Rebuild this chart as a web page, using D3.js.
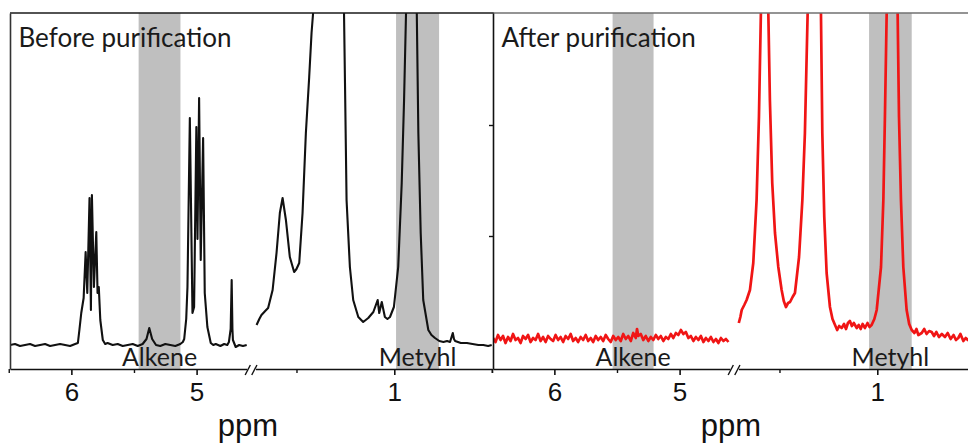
<!DOCTYPE html>
<html>
<head>
<meta charset="utf-8">
<script src="https://cdn.jsdelivr.net/npm/d3@7"></script>
<style>
  html, body { margin: 0; padding: 0; background: #fff; }
  svg { display: block; }
</style>
</head>
<body>
<div id="chart"></div>
<script>
// panel titles and broken ppm axis
const panelTitles = ["Before purification", "After purification"];
const seg1Domain = [6.49, 4.60];
const seg2Domain = [1.71, 0.50];
const majorTicks = [[6, 5], [1]];
const minorTicks = [[6.5, 5.5], [1.5, 0.5]];
const yTicksAfter = [133, 244];

// shaded regions: segment, ppm from, ppm to, label
const bandsBefore = [
    { seg: 0, from: 5.463, to: 5.129, label: "Alkene" },
    { seg: 1, from: 0.991, to: 0.771, label: "Metyhl" }
];
const bandsAfter = [
    { seg: 0, from: 5.535, to: 5.208, label: "Alkene" },
    { seg: 1, from: 1.042, to: 0.824, label: "Metyhl" }
];

// spectra [ppm, intensity a.u.]
const beforeSeg1 = [
    [6.49,24],[6.45,25],[6.41,23],[6.37,24],[6.33,25],[6.29,23],[6.25,24],[6.21,25],[6.17,23],[6.13,24],
    [6.09,25],[6.05,24],[6.01,23],[5.97,25],[5.948,26],[5.935,40],[5.921,56],[5.902,71],[5.886,117],
    [5.873,76],[5.855,171],[5.844,59],[5.836,174],[5.820,82],[5.801,137],[5.791,76],[5.781,82],
    [5.769,49],[5.749,29],[5.73,25],[5.711,26],[5.67,24],[5.63,25],[5.59,23],[5.55,24],[5.51,25],
    [5.47,23],[5.431,25],[5.40,30],[5.378,41],[5.355,30],[5.324,24],[5.29,23],[5.25,25],[5.21,24],
    [5.17,23],[5.13,25],[5.11,27],[5.099,30],[5.083,50],[5.073,82],[5.054,251],[5.033,56],[5.020,62],
    [5.002,242],[4.993,130],[4.980,271],[4.967,109],[4.948,231],[4.935,76],[4.914,42],[4.887,26],
    [4.867,24],[4.847,25],[4.81,23],[4.78,25],[4.755,24],[4.742,27],[4.728,40],[4.720,89],[4.714,40],
    [4.710,29],[4.688,22],[4.66,24],[4.63,23],[4.60,24]
];
const beforeSeg2 = [
    [1.704,44],[1.690,50],[1.679,54],[1.660,58],[1.645,61],[1.622,79],[1.602,116],[1.585,156],
    [1.571,171],[1.554,149],[1.534,112],[1.512,97],[1.500,100],[1.486,106],[1.469,156],[1.452,236],
    [1.435,292],[1.423,336],[1.415,356],[1.34,900],[1.257,356],[1.252,286],[1.244,169],[1.227,102],
    [1.210,69],[1.184,52],[1.159,47],[1.133,51],[1.107,57],[1.085,69],[1.077,56],[1.064,67],[1.048,52],
    [1.035,50],[1.022,52],[1.002,62],[0.980,102],[0.962,186],[0.950,269],[0.940,356],[0.915,900],
    [0.885,356],[0.877,236],[0.865,136],[0.852,69],[0.826,39],[0.810,34],[0.792,31],[0.770,28],
    [0.749,27],[0.730,28],[0.715,27],[0.701,36],[0.695,30],[0.689,28],[0.66,26],[0.629,26],[0.60,25],
    [0.57,24],[0.545,24],[0.52,23],[0.502,24]
];
const afterSeg1 = [
    [6.49,31],[6.47,27],[6.45,34],[6.43,29],[6.41,33],[6.39,26],[6.37,32],[6.35,28],[6.33,35],[6.31,29],
    [6.29,31],[6.27,26],[6.25,33],[6.23,30],[6.21,34],[6.19,27],[6.17,31],[6.15,29],[6.13,35],[6.11,28],
    [6.09,32],[6.07,27],[6.05,33],[6.03,30],[6.01,28],[5.99,34],[5.97,29],[5.95,32],[5.93,27],[5.91,33],
    [5.89,30],[5.87,35],[5.85,28],[5.83,31],[5.81,27],[5.79,32],[5.77,29],[5.75,34],[5.73,28],[5.71,31],
    [5.69,27],[5.67,33],[5.65,29],[5.63,32],[5.61,28],[5.59,34],[5.57,30],[5.55,27],[5.53,33],[5.51,29],
    [5.49,32],[5.47,28],[5.45,35],[5.43,30],[5.41,33],[5.39,28],[5.37,36],[5.35,31],[5.34,40],[5.33,33],
    [5.31,35],[5.29,29],[5.27,33],[5.25,28],[5.23,32],[5.21,29],[5.19,34],[5.17,30],[5.15,33],[5.13,28],
    [5.11,32],[5.09,30],[5.07,35],[5.05,31],[5.03,36],[5.01,34],[4.99,39],[4.97,35],[4.95,37],[4.93,31],
    [4.91,33],[4.89,28],[4.87,32],[4.85,29],[4.83,33],[4.81,27],[4.79,31],[4.77,28],[4.75,32],[4.73,27],
    [4.71,30],[4.69,26],[4.67,31],[4.65,28],[4.63,30],[4.61,27]
];
const afterSeg2 = [
    [1.708,46],[1.700,52],[1.693,59],[1.680,64],[1.668,69],[1.651,79],[1.634,106],[1.617,169],
    [1.605,252],[1.595,356],[1.577,900],[1.557,356],[1.549,269],[1.537,186],[1.523,136],[1.506,102],
    [1.489,79],[1.478,68],[1.467,62],[1.456,66],[1.446,67],[1.433,72],[1.421,76],[1.400,112],
    [1.383,169],[1.370,236],[1.356,356],[1.324,900],[1.288,356],[1.281,236],[1.271,152],[1.259,96],
    [1.242,62],[1.229,50],[1.216,44],[1.205,39],[1.195,43],[1.182,41],[1.170,45],[1.160,40],[1.150,46],
    [1.140,48],[1.130,43],[1.120,46],[1.105,41],[1.095,44],[1.085,40],[1.075,45],[1.063,41],[1.050,46],
    [1.040,42],[1.029,44],[1.015,50],[1.003,59],[0.981,102],[0.969,169],[0.961,252],[0.952,356],
    [0.925,900],[0.896,356],[0.889,252],[0.879,169],[0.867,102],[0.850,59],[0.837,45],[0.824,39],
    [0.810,36],[0.800,40],[0.790,34],[0.773,36],[0.760,40],[0.748,35],[0.735,38],[0.722,37],[0.710,33],
    [0.698,37],[0.685,32],[0.670,35],[0.654,32],[0.640,36],[0.625,30],[0.610,34],[0.598,29],[0.586,31],
    [0.575,35],[0.560,28],[0.548,31],[0.537,29],[0.525,32],[0.512,28],[0.500,30]
];

const width = 968, height = 444;
const panelW = 482.1;
const plotTop = 13, axisY = 369;
const textFont = "Lato, 'Open Sans', sans-serif";
const tickFont = "'Liberation Sans', Arial, sans-serif";

const panels = [
    { title: panelTitles[0], bands: bandsBefore, segs: [beforeSeg1, beforeSeg2], color: "#111", width: 2.1, yTicks: [], offset: 10, topColor: "#1a1a1a", leftColor: "#333" },
    { title: panelTitles[1], bands: bandsAfter, segs: [afterSeg1, afterSeg2], color: "#f01515", width: 2.7, yTicks: yTicksAfter, offset: 493, topColor: "#707070", leftColor: "#111" }
];

const xs = [
    d3.scaleLinear().domain(seg1Domain).range([0, 236.7]),
    d3.scaleLinear().domain(seg2Domain).range([245.4, panelW])
];
const y = d3.scaleLinear().domain([0, 356]).range([axisY, plotTop]);

const svg = d3.select("#chart")
    .append("svg")
    .attr("width", width)
    .attr("height", height);

svg.append("rect")
    .attr("width", width)
    .attr("height", height)
    .attr("fill", "#fff");

panels.forEach((p, i) => {
    const g = svg.append("g")
        .attr("transform", `translate(${p.offset},0)`);

    const clipId = "clip" + i;
    g.append("clipPath")
        .attr("id", clipId)
        .append("rect")
        .attr("x", 0)
        .attr("y", plotTop)
        .attr("width", panelW)
        .attr("height", axisY - plotTop);

    // gray bands
    g.selectAll("rect.band")
        .data(p.bands)
        .join("rect")
        .attr("class", "band")
        .attr("x", d => xs[d.seg](d.from))
        .attr("width", d => xs[d.seg](d.to) - xs[d.seg](d.from))
        .attr("y", plotTop)
        .attr("height", axisY - plotTop)
        .attr("fill", "#bfbfbf");

    // spectrum, one path per axis segment
    p.segs.forEach((data, s) => {
        const line = d3.line()
            .x(d => xs[s](d[0]))
            .y(d => y(d[1]));
        g.append("path")
            .datum(data)
            .attr("clip-path", `url(#${clipId})`)
            .attr("d", line)
            .attr("fill", "none")
            .attr("stroke", p.color)
            .attr("stroke-width", p.width)
            .attr("stroke-linejoin", "round");
    });

    g.selectAll("text.band-label")
        .data(p.bands)
        .join("text")
        .attr("class", "band-label")
        .attr("x", d => (xs[d.seg](d.from) + xs[d.seg](d.to)) / 2)
        .attr("y", 366)
        .attr("text-anchor", "middle")
        .style("font-family", textFont)
        .style("font-size", "25px")
        .attr("fill", "#1a1a1a")
        .text(d => d.label);

    // x axes, one per segment
    xs.forEach((x, s) => {
        const major = g.append("g")
            .attr("transform", `translate(0,${axisY})`)
            .call(d3.axisBottom(x)
                .tickValues(majorTicks[s])
                .tickSize(6)
                .tickSizeOuter(0)
                .tickPadding(8)
                .tickFormat(d3.format("d")));
        major.select(".domain").attr("stroke", "#111").attr("stroke-width", 1.6);
        major.selectAll(".tick line").attr("stroke", "#111").attr("stroke-width", 1.6);
        major.selectAll(".tick text")
            .style("font-family", tickFont)
            .style("font-size", "26px")
            .attr("fill", "#111");

        const minor = g.append("g")
            .attr("transform", `translate(0,${axisY})`)
            .call(d3.axisBottom(x)
                .tickValues(minorTicks[s])
                .tickSize(4)
                .tickFormat(""));
        minor.select(".domain").remove();
        minor.selectAll(".tick line").attr("stroke", "#111").attr("stroke-width", 1.4);
    });

    // axis break marks
    const gapMid = (xs[0].range()[1] + xs[1].range()[0]) / 2;
    [-3.3, 3.3].forEach(dx => {
        g.append("line")
            .attr("x1", gapMid + dx - 2.6)
            .attr("y1", axisY + 6)
            .attr("x2", gapMid + dx + 2.6)
            .attr("y2", axisY - 4)
            .attr("stroke", "#111")
            .attr("stroke-width", 1.4);
    });

    g.append("text")
        .attr("x", 238)
        .attr("y", 436)
        .attr("text-anchor", "middle")
        .style("font-family", tickFont)
        .style("font-size", "31px")
        .attr("fill", "#111")
        .text("ppm");

    // frame: top line and left y axis
    g.append("line")
        .attr("x1", 0)
        .attr("x2", panelW + 2)
        .attr("y1", plotTop)
        .attr("y2", plotTop)
        .attr("stroke", p.topColor)
        .attr("stroke-width", 1.6);

    const yAxis = g.append("g")
        .call(d3.axisLeft(y)
            .tickValues(p.yTicks)
            .tickSize(4)
            .tickSizeOuter(0)
            .tickFormat(""));
    yAxis.select(".domain").attr("stroke", p.leftColor).attr("stroke-width", 1.6);
    yAxis.selectAll(".tick line").attr("stroke", "#111").attr("stroke-width", 1.4);

    g.append("text")
        .attr("x", 8.5)
        .attr("y", 47)
        .style("font-family", textFont)
        .style("font-size", "26px")
        .attr("fill", "#1a1a1a")
        .text(p.title);
});
</script>
</body>
</html>
